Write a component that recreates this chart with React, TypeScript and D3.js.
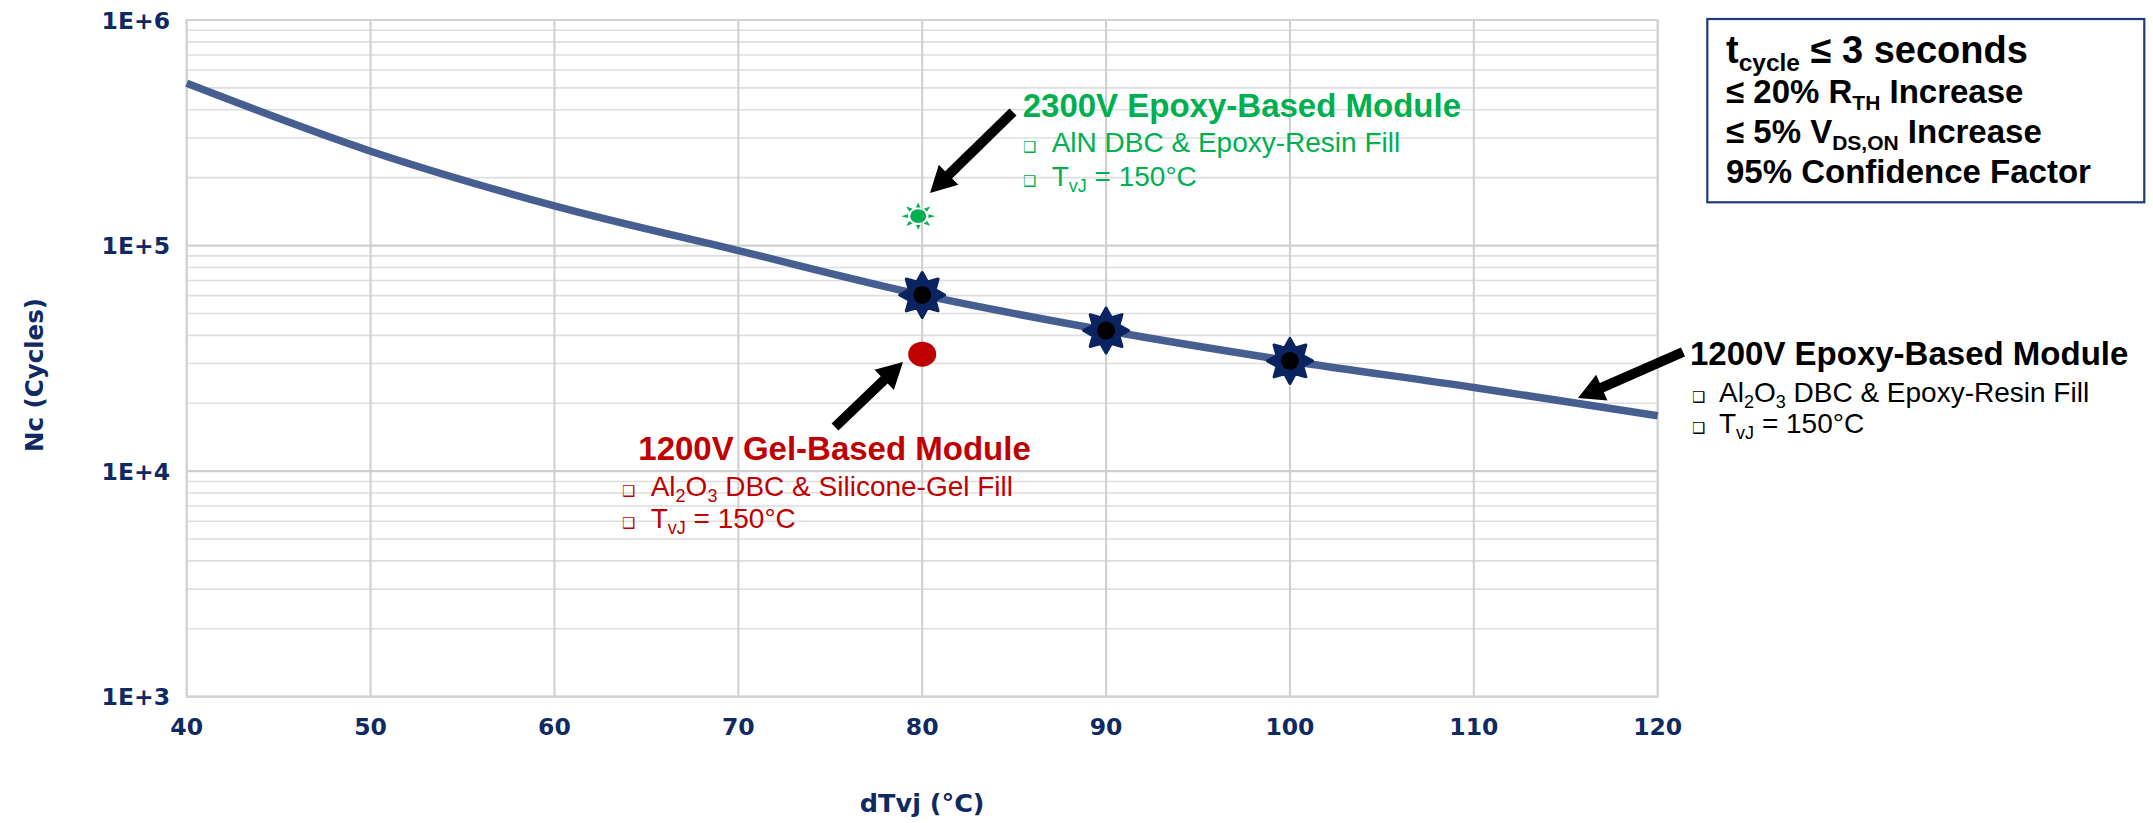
import React from "react";
import * as d3 from "d3";

// ---- data ----
const dTvj = [40, 50, 60, 70, 80, 90, 100, 110, 120];
const ncCurve = [524000, 262000, 150000, 95000, 60400, 42000, 30800, 23500, 17600];
const epoxyTestX = [80, 90, 100];
const epoxyTestY = [60400, 42000, 30800];
const gelPoint = { x: 80, y: 33000 };
const alnPoint = { x: 80, y: 135000 };
const xTicks = [40, 50, 60, 70, 80, 90, 100, 110, 120];
const yMajor = [1e3, 1e4, 1e5, 1e6];
const yTickLabels = ["1E+3", "1E+4", "1E+5", "1E+6"];

const NAVY = "#0f2a63";
const GREEN = "#00b050";
const RED = "#c00000";
const TICKFONT = "'DejaVu Sans', sans-serif";
const ARIAL = "'Liberation Sans', Arial, sans-serif";

const x = d3.scaleLinear().domain([40, 120]).range([186.7, 1657.7]);
const y = d3.scaleLog().domain([1e3, 1e6]).range([696.7, 20]);

const yMinor: number[] = [];
[1e3, 1e4, 1e5].forEach((d) => {
  for (let k = 2; k <= 9; k++) yMinor.push(d * k);
});

function arrowPath(x1: number, y1: number, x2: number, y2: number) {
  const dx = x2 - x1, dy = y2 - y1;
  const L = Math.hypot(dx, dy);
  const ux = dx / L, uy = dy / L;
  const px = -uy, py = ux;
  const sw = 5, hw = 14, hl = 26;
  const bx = x2 - ux * hl, by = y2 - uy * hl;
  const pts = [
    [x1 + px * sw, y1 + py * sw],
    [bx + px * sw, by + py * sw],
    [bx + px * hw, by + py * hw],
    [x2, y2],
    [bx - px * hw, by - py * hw],
    [bx - px * sw, by - py * sw],
    [x1 - px * sw, y1 - py * sw],
  ];
  return "M" + pts.map((p) => p.join(",")).join("L") + "Z";
}

const starGen = d3
  .lineRadial<number>()
  .angle((_, i) => (i * Math.PI) / 8)
  .radius((_, i) => (i % 2 === 0 ? 22.5 : 14))
  .curve(d3.curveLinearClosed);
const starPath = starGen(d3.range(16)) as string;

const line = d3
  .line<number>()
  .x((_, i) => x(dTvj[i]))
  .y((d) => y(d))
  .curve(d3.curveMonotoneX);

function Bullet({ x: bx, y: by, color }: { x: number; y: number; color: string }) {
  return (
    <text x={bx} y={by} fontSize={15} fill={color} fontFamily="'DejaVu Sans', sans-serif">
      ❑
    </text>
  );
}

function SunMarker({ cx, cy }: { cx: number; cy: number }) {
  const rays = d3.range(8).map((i) => {
    const a = (i * Math.PI) / 4;
    const c = Math.cos(a), s = Math.sin(a);
    const rIn = 10.5, rOut = 17;
    const half = 0.22;
    const p1 = [cx + Math.cos(a - half) * rIn, cy + Math.sin(a - half) * rIn * 0.85];
    const p2 = [cx + Math.cos(a + half) * rIn, cy + Math.sin(a + half) * rIn * 0.85];
    const p3 = [cx + c * rOut, cy + s * rOut * 0.8];
    return "M" + [p1, p2, p3].map((p) => p.join(",")).join("L") + "Z";
  });
  return (
    <g>
      <ellipse cx={cx} cy={cy} rx={8} ry={6.8} fill={GREEN} />
      {rays.map((d, i) => (
        <path key={i} d={d} fill={GREEN} />
      ))}
    </g>
  );
}

export default function App() {
  const [x0, x1] = x.range();
  const [yb, yt] = y.range();
  return (
    <svg
      width={2153}
      height={823}
      style={{ position: "fixed", left: 0, top: 0, background: "#fff" }}
    >
      <rect x={0} y={0} width={2153} height={823} fill="#fff" />
      {/* minor gridlines */}
      {yMinor.map((v) => (
        <line key={"m" + v} x1={x0} x2={x1} y1={y(v)} y2={y(v)} stroke="#dedede" strokeWidth={1.6} />
      ))}
      {yMajor.map((v) => (
        <line key={"M" + v} x1={x0} x2={x1} y1={y(v)} y2={y(v)} stroke="#cfcfcf" strokeWidth={2.2} />
      ))}
      {xTicks.map((t) => (
        <line key={"v" + t} x1={x(t)} x2={x(t)} y1={yb} y2={yt} stroke="#cfcfcf" strokeWidth={2} />
      ))}
      <rect x={x0} y={yt} width={x1 - x0} height={yb - yt} fill="none" stroke="#d2d2d2" strokeWidth={2} />

      {/* tick labels */}
      {yMajor.map((v, i) => (
        <text
          key={"yl" + v}
          x={170}
          y={y(v) + 8.5}
          textAnchor="end"
          fontFamily={TICKFONT}
          fontWeight="bold"
          fontSize={23.5}
          fill={NAVY}
        >
          {yTickLabels[i]}
        </text>
      ))}
      {xTicks.map((t) => (
        <text
          key={"xl" + t}
          x={x(t)}
          y={735}
          textAnchor="middle"
          fontFamily={TICKFONT}
          fontWeight="bold"
          fontSize={23.5}
          fill={NAVY}
        >
          {t}
        </text>
      ))}

      {/* axis titles */}
      <text
        x={(x0 + x1) / 2}
        y={812}
        textAnchor="middle"
        fontFamily={TICKFONT}
        fontWeight="bold"
        fontSize={25.5}
        fill={NAVY}
      >
        dTvj (°C)
      </text>
      <text
        transform={`translate(43,${375}) rotate(-90)`}
        textAnchor="middle"
        fontFamily={TICKFONT}
        fontWeight="bold"
        fontSize={24.5}
        fill={NAVY}
      >
        Nc (Cycles)
      </text>

      {/* curve */}
      <path d={line(ncCurve) as string} fill="none" stroke="#475f90" strokeWidth={7.5} strokeLinecap="butt" />

      {/* test points on curve */}
      {epoxyTestX.map((t, i) => (
        <g key={"s" + t} transform={`translate(${x(t)},${y(epoxyTestY[i])})`}>
          <path d={starPath} fill="#0b2461" stroke="#0b2461" strokeWidth={3} strokeLinejoin="round" />
          <circle r={9} fill="#000" />
        </g>
      ))}

      {/* gel point */}
      <ellipse cx={x(gelPoint.x)} cy={y(gelPoint.y)} rx={14} ry={12.5} fill={RED} />
      {/* AlN point */}
      <SunMarker cx={x(alnPoint.x) - 4} cy={y(alnPoint.y)} />

      {/* arrows */}
      <path d={arrowPath(1013, 112, 930, 193)} fill="#000" />
      <path d={arrowPath(835, 427, 903, 362)} fill="#000" />
      <path d={arrowPath(1683, 352, 1578, 398)} fill="#000" />

      {/* green annotation */}
      <g fontFamily={ARIAL} fill={GREEN}>
        <text x={1022.7} y={116.7} fontWeight="bold" fontSize={33}>
          2300V Epoxy-Based Module
        </text>
        <Bullet x={1023} y={152.3} color={GREEN} />
        <text x={1051.7} y={152.3} fontSize={28}>
          AlN DBC &amp; Epoxy-Resin Fill
        </text>
        <Bullet x={1023} y={186} color={GREEN} />
        <text x={1051.7} y={186} fontSize={28}>
          T<tspan fontSize={18} dy={6}>vJ</tspan>
          <tspan dy={-6}> = 150°C</tspan>
        </text>
      </g>

      {/* red annotation */}
      <g fontFamily={ARIAL} fill={RED}>
        <text x={638.3} y={460} fontWeight="bold" fontSize={33}>
          1200V Gel-Based Module
        </text>
        <Bullet x={622} y={496} color={RED} />
        <text x={650.7} y={496} fontSize={28}>
          Al<tspan fontSize={18} dy={6}>2</tspan>
          <tspan dy={-6}>O</tspan>
          <tspan fontSize={18} dy={6}>3</tspan>
          <tspan dy={-6}> DBC &amp; Silicone-Gel Fill</tspan>
        </text>
        <Bullet x={622} y={528} color={RED} />
        <text x={650.7} y={528} fontSize={28}>
          T<tspan fontSize={18} dy={6}>vJ</tspan>
          <tspan dy={-6}> = 150°C</tspan>
        </text>
      </g>

      {/* black annotation */}
      <g fontFamily={ARIAL} fill="#000">
        <text x={1690} y={365} fontWeight="bold" fontSize={33}>
          1200V Epoxy-Based Module
        </text>
        <Bullet x={1692} y={401.7} color="#000" />
        <text x={1719} y={401.7} fontSize={28}>
          Al<tspan fontSize={18} dy={6}>2</tspan>
          <tspan dy={-6}>O</tspan>
          <tspan fontSize={18} dy={6}>3</tspan>
          <tspan dy={-6}> DBC &amp; Epoxy-Resin Fill</tspan>
        </text>
        <Bullet x={1692} y={433.3} color="#000" />
        <text x={1719} y={433.3} fontSize={28}>
          T<tspan fontSize={18} dy={6}>vJ</tspan>
          <tspan dy={-6}> = 150°C</tspan>
        </text>
      </g>

      {/* condition box */}
      <rect x={1707.3} y={19} width={437} height={183.3} fill="#fff" stroke="#1f3a7a" strokeWidth={2.2} />
      <g fontFamily={ARIAL} fontWeight="bold" fill="#000">
        <text x={1726} y={63.3} fontSize={38}>
          t<tspan fontSize={24.5} dy={8}>cycle</tspan>
          <tspan dy={-8}> ≤ 3 seconds</tspan>
        </text>
        <text x={1726} y={103.3} fontSize={33}>
          ≤ 20% R<tspan fontSize={21} dy={7}>TH</tspan>
          <tspan dy={-7}> Increase</tspan>
        </text>
        <text x={1726} y={143.3} fontSize={33}>
          ≤ 5% V<tspan fontSize={21} dy={7}>DS,ON</tspan>
          <tspan dy={-7}> Increase</tspan>
        </text>
        <text x={1726} y={183.3} fontSize={33}>
          95% Confidence Factor
        </text>
      </g>
    </svg>
  );
}
